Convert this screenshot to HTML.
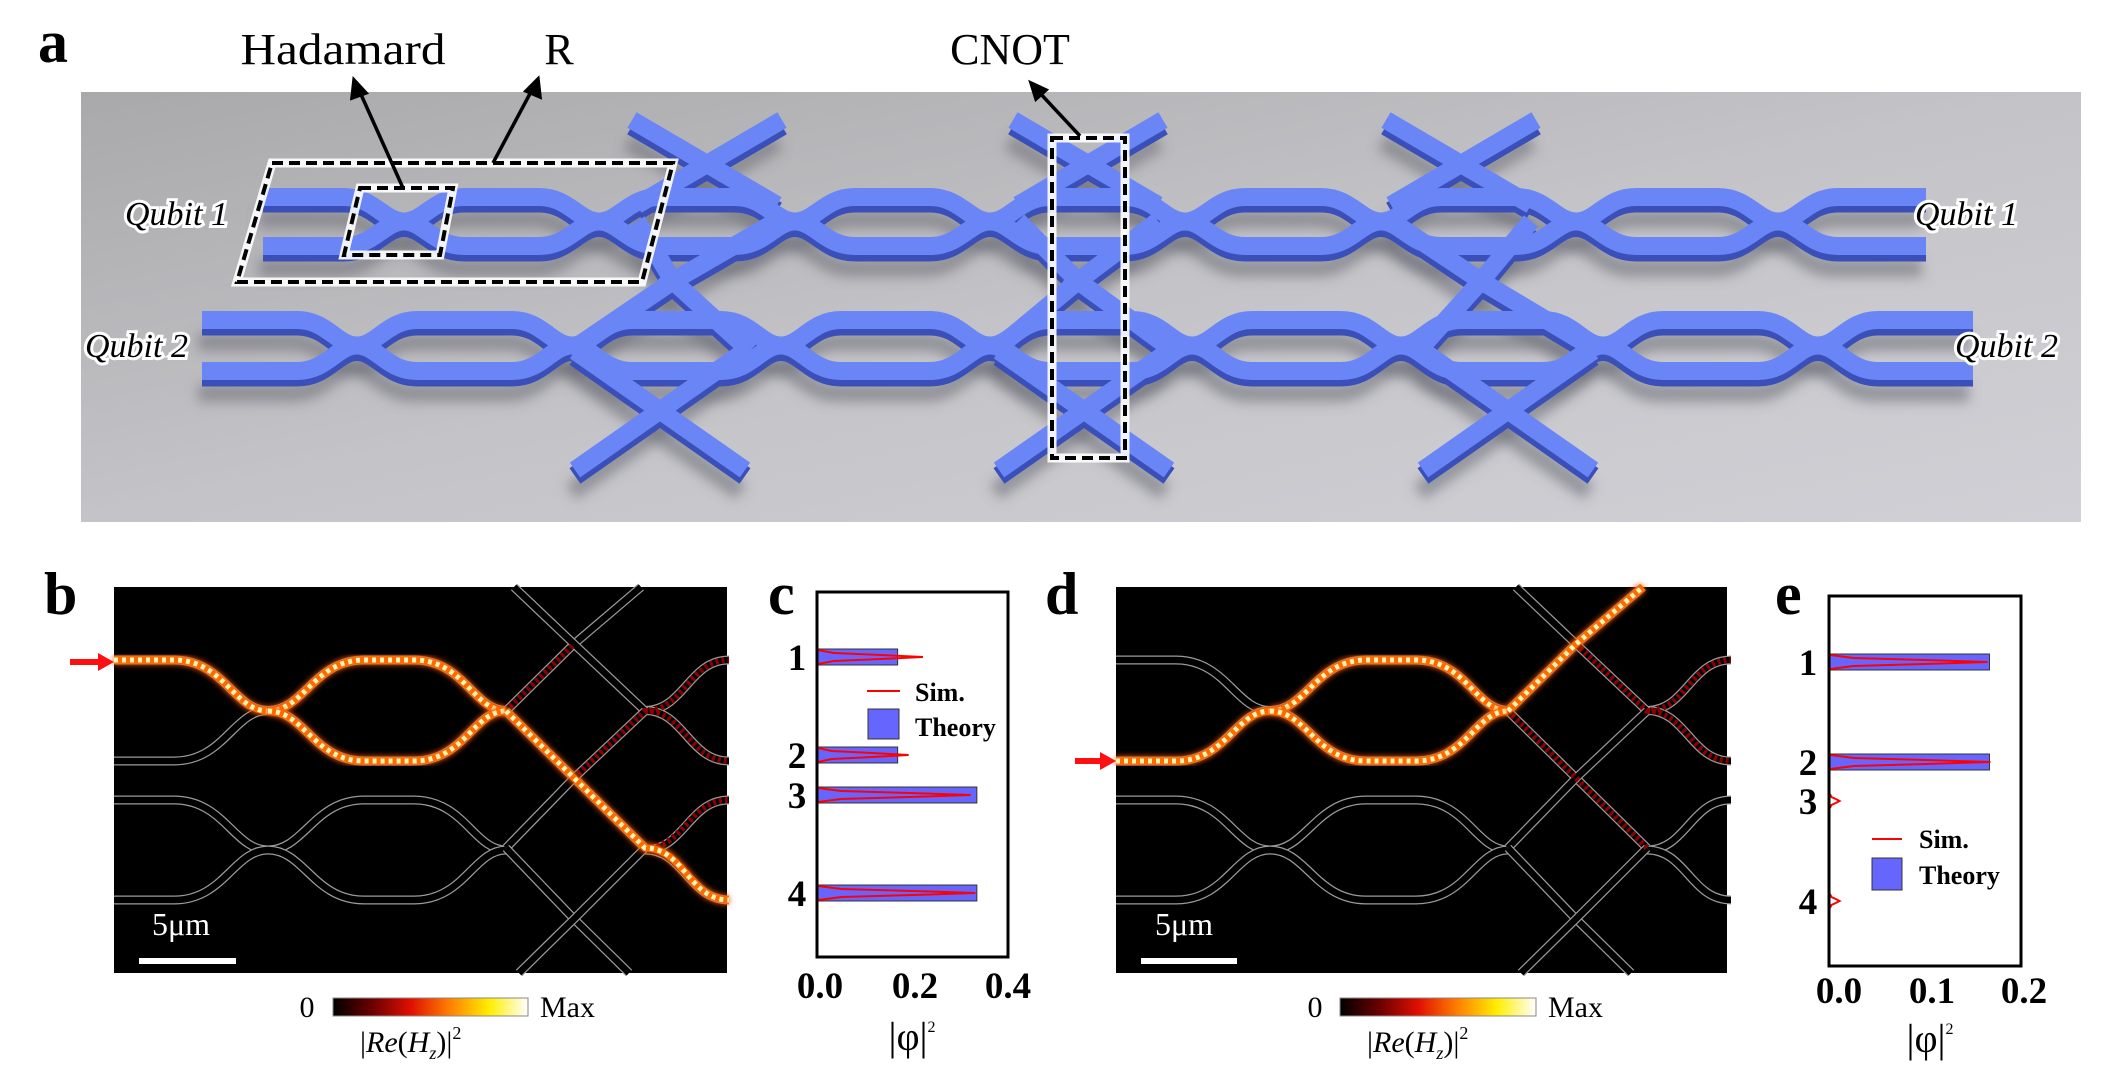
<!DOCTYPE html>
<html><head><meta charset="utf-8">
<style>
html,body{margin:0;padding:0;background:#fff;}
svg{display:block;}
.serif{font-family:"Liberation Serif",serif;}
</style></head>
<body>
<svg id="s" width="2101" height="1068" viewBox="0 0 2101 1068" xmlns="http://www.w3.org/2000/svg">
<defs>
<linearGradient id="bg" x1="0" y1="0" x2="1" y2="1">
<stop offset="0" stop-color="#a9a9ab"/><stop offset="0.5" stop-color="#c4c4c8"/><stop offset="1" stop-color="#d0d0d6"/>
</linearGradient>
<linearGradient id="cb" x1="0" y1="0" x2="1" y2="0">
<stop offset="0" stop-color="#000"/><stop offset="0.2" stop-color="#6a0000"/><stop offset="0.4" stop-color="#e01000"/><stop offset="0.6" stop-color="#ff8000"/><stop offset="0.8" stop-color="#ffee00"/><stop offset="1" stop-color="#fff"/>
</linearGradient>
<filter id="blur" x="-10%" y="-10%" width="120%" height="120%"><feGaussianBlur stdDeviation="6"/></filter>
<filter id="glow"><feGaussianBlur stdDeviation="3"/></filter>
</defs>

<!-- panel a -->
<text x="38" y="62" class="serif" font-size="60" font-weight="bold">a</text>
<rect x="81" y="92" width="2000" height="430" fill="url(#bg)"/>
<g id="net"></g>
<text x="343" y="64" class="serif" font-size="44" text-anchor="middle" textLength="205" lengthAdjust="spacingAndGlyphs">Hadamard</text>
<text x="559" y="64" class="serif" font-size="44" text-anchor="middle">R</text>
<text x="1010" y="64" class="serif" font-size="44" text-anchor="middle">CNOT</text>
<g stroke="#fff" stroke-width="9" fill="none" opacity="0.9">
<path d="M272 163 L673 163 L642 282 L237 282 Z"/><path d="M360 188 L453 188 L440 255 L344 255 Z"/><rect x="1052" y="138" width="73" height="320"/>
</g>
<g stroke="#000" stroke-width="4" fill="none" stroke-dasharray="11 6">
<path d="M272 163 L673 163 L642 282 L237 282 Z"/><path d="M360 188 L453 188 L440 255 L344 255 Z"/><rect x="1052" y="138" width="73" height="320"/>
</g>
<g stroke="#000" stroke-width="3.5" fill="#000">
<line x1="403" y1="188" x2="359" y2="90"/><polygon points="354,80 352,98 366,93"/>
<line x1="493" y1="163" x2="533" y2="88"/><polygon points="538,79 526,91 540,97"/>
<line x1="1080" y1="136" x2="1038" y2="91"/><polygon points="1031,83 1036,99 1046,90"/>
</g>
<g class="serif" font-size="34" font-style="italic" fill="#000" stroke="#fff" stroke-width="6" paint-order="stroke">
<text x="125" y="225">Qubit 1</text><text x="1915" y="225">Qubit 1</text>
<text x="85" y="357">Qubit 2</text><text x="1955" y="357">Qubit 2</text>
</g>

<!-- panel b -->
<text x="44" y="614" class="serif" font-size="60" font-weight="bold">b</text>
<rect x="114" y="587" width="613" height="386" fill="#000"/>
<g id="pb" transform="translate(114,587)"></g>
<polygon points="70,659 98,659 98,653 114,662 98,671 98,665 70,665" fill="#ff1010"/>
<text x="152" y="935" class="serif" font-size="32" fill="#fff">5μm</text>
<rect x="139" y="958" width="97" height="6" fill="#fff"/>
<text x="307" y="1017" class="serif" font-size="30" text-anchor="middle">0</text>
<rect x="333" y="998" width="195" height="18" fill="url(#cb)" stroke="#888" stroke-width="1"/>
<text x="540" y="1017" class="serif" font-size="30">Max</text>
<text x="360" y="1052" class="serif" font-size="30">|<tspan font-style="italic">Re</tspan>(<tspan font-style="italic">H</tspan><tspan font-size="18" font-style="italic" dy="7">z</tspan><tspan dy="-7">)|</tspan><tspan font-size="18" dy="-13">2</tspan></text>

<!-- panel c -->
<text x="768" y="614" class="serif" font-size="60" font-weight="bold">c</text>
<g id="pc"></g>
<rect x="817" y="592" width="191" height="365" fill="none" stroke="#000" stroke-width="3"/>
<g class="serif" font-size="37" font-weight="bold" text-anchor="middle">
<text x="820" y="998">0.0</text><text x="915" y="998">0.2</text><text x="1008" y="998">0.4</text>
<text x="797" y="670">1</text><text x="797" y="768">2</text><text x="797" y="808">3</text><text x="797" y="906">4</text>
</g>
<line x1="867" y1="691" x2="900" y2="691" stroke="#f00" stroke-width="2"/>
<rect x="868" y="709" width="31" height="30" fill="#6666ff" stroke="#333" stroke-width="1"/>
<text x="915" y="701" class="serif" font-size="26" font-weight="bold">Sim.</text>
<text x="915" y="736" class="serif" font-size="26" font-weight="bold">Theory</text>
<text x="912" y="1050" class="serif" font-size="40" text-anchor="middle">|φ|<tspan font-size="16" dy="-18">2</tspan></text>

<!-- panel d -->
<text x="1045" y="614" class="serif" font-size="60" font-weight="bold">d</text>
<rect x="1116" y="587" width="611" height="386" fill="#000"/>
<g id="pd" transform="translate(1116,587)"></g>
<polygon points="1075,758 1100,758 1100,752 1116,761 1100,770 1100,764 1075,764" fill="#ff1010"/>
<text x="1155" y="935" class="serif" font-size="32" fill="#fff">5μm</text>
<rect x="1141" y="958" width="96" height="6" fill="#fff"/>
<text x="1315" y="1017" class="serif" font-size="30" text-anchor="middle">0</text>
<rect x="1340" y="998" width="196" height="18" fill="url(#cb)" stroke="#888" stroke-width="1"/>
<text x="1548" y="1017" class="serif" font-size="30">Max</text>
<text x="1367" y="1052" class="serif" font-size="30">|<tspan font-style="italic">Re</tspan>(<tspan font-style="italic">H</tspan><tspan font-size="18" font-style="italic" dy="7">z</tspan><tspan dy="-7">)|</tspan><tspan font-size="18" dy="-13">2</tspan></text>

<!-- panel e -->
<text x="1775" y="614" class="serif" font-size="60" font-weight="bold">e</text>
<g id="pe"></g>
<rect x="1829" y="596" width="192" height="370" fill="none" stroke="#000" stroke-width="3"/>
<g class="serif" font-size="37" font-weight="bold" text-anchor="middle">
<text x="1839" y="1003">0.0</text><text x="1932" y="1003">0.1</text><text x="2024" y="1003">0.2</text>
<text x="1808" y="675">1</text><text x="1808" y="775">2</text><text x="1808" y="814">3</text><text x="1808" y="914">4</text>
</g>
<line x1="1872" y1="839" x2="1902" y2="839" stroke="#f00" stroke-width="2"/>
<rect x="1872" y="858" width="30" height="32" fill="#6666ff" stroke="#333" stroke-width="1"/>
<text x="1919" y="848" class="serif" font-size="26" font-weight="bold">Sim.</text>
<text x="1919" y="884" class="serif" font-size="26" font-weight="bold">Theory</text>
<text x="1930" y="1052" class="serif" font-size="40" text-anchor="middle">|φ|<tspan font-size="16" dy="-18">2</tspan></text>
</svg>
<script>
var NS="http://www.w3.org/2000/svg";
function el(p,tag,at){var e=document.createElementNS(NS,tag);for(var k in at)e.setAttribute(k,at[k]);p.appendChild(e);return e;}
function rowPaths(yu,yl){var ym=(yu+yl)/2,p=[];
 [yu,yl].forEach(function(a){
  p.push("M0,"+a+" L60,"+a+" C110,"+a+" 120,"+ym+" 154,"+ym+" C190,"+ym+" 200,"+a+" 250,"+a+" L300,"+a+" C350,"+a+" 360,"+ym+" 392,"+ym);
  p.push("M531,"+ym+" C570,"+ym+" 575,"+a+" 615,"+a);});
 return p;}
var base=rowPaths(73,174).concat(rowPaths(213,313)).concat([
"M392,124 L460,57 L527,0","M531,124 L460,57 L400,0","M392,124 L460,191 L531,261","M531,124 L460,191 L392,261",
"M392,261 L460,332 L515,386","M531,261 L460,332 L405,386"]);
function drawPanel(g,glows,dims){
 base.forEach(function(d){el(g,"path",{d:d,stroke:"#9a9a9a","stroke-width":9,fill:"none"});el(g,"path",{d:d,stroke:"#000","stroke-width":6.5,fill:"none"});});
 dims.forEach(function(d){el(g,"path",{d:d,stroke:"#8a0000","stroke-width":6,fill:"none","stroke-dasharray":"3 3"});});
 glows.forEach(function(d){el(g,"path",{d:d,stroke:"#ff5a00","stroke-width":9,fill:"none",filter:"url(#glow)"});
  el(g,"path",{d:d,stroke:"#ff6a00","stroke-width":7,fill:"none"});
  el(g,"path",{d:d,stroke:"#fff4b0","stroke-width":5,fill:"none","stroke-dasharray":"4 4"});});
}
drawPanel(document.getElementById("pb"),
 ["M0,73 L60,73 C110,73 120,124 154,124","M154,124 C190,124 200,73 250,73 L300,73 C350,73 360,124 392,124","M154,124 C190,124 200,174 250,174 L300,174 C350,174 360,124 392,124","M392,124 L460,191 L531,261 C570,261 575,313 615,313"],
 ["M531,261 C570,261 575,213 615,213","M460,191 L531,124 C570,124 575,73 615,73","M531,124 C570,124 575,174 615,174","M392,124 L460,57"]);
drawPanel(document.getElementById("pd"),
 ["M0,174 L60,174 C110,174 120,124 154,124","M154,124 C190,124 200,73 250,73 L300,73 C350,73 360,124 392,124","M154,124 C190,124 200,174 250,174 L300,174 C350,174 360,124 392,124","M392,124 L460,57 L527,0"],
 ["M392,124 L460,191 L531,261","M460,57 L531,124 C570,124 575,73 615,73","M531,124 C570,124 575,174 615,174"]);
var net=document.getElementById("net");
function rowA(y1,y2,xs,x0,x1){var ym=(y1+y2)/2,out=[];
 [[y1,y2],[y2,y1]].forEach(function(pr){var a=pr[0],b=pr[1],d="M"+x0+","+a+" L"+(xs[0]-60)+","+a;var cur=a;
  for(var i=0;i<xs.length;i++){var x=xs[i];d+=" C"+(x-30)+","+cur+" "+(x-20)+","+ym+" "+x+","+ym;var nx=(i+1<xs.length)?xs[i+1]:x1+60;var nxt=(cur==a)?b:a;
   d+=" C"+(x+20)+","+ym+" "+(x+30)+","+nxt+" "+(x+60)+","+nxt+" L"+Math.min(nx-60,x1)+","+nxt;cur=nxt;}
  out.push(d);});return out;}
var paths=rowA(197,246,[404,599,795,990,1185,1381,1576,1778],263,1926).concat(rowA(320,371,[357,572,781,990,1192,1401,1603,1818],202,1973));
[[707,161,673,281,660,411],[1088,161,1078,281,1084,411],[1461,161,1481,281,1508,411]].forEach(function(c){
 paths.push("M"+(c[0]-75)+",120 L"+(c[0]+70)+",205");paths.push("M"+(c[0]+75)+",120 L"+(c[0]-70)+",205");
 paths.push("M"+(c[0]-70)+",221 L"+c[2]+","+c[3]+" L"+(c[4]-90)+",351");paths.push("M"+(c[0]+70)+",221 L"+c[2]+","+c[3]+" L"+(c[4]+90)+",351");
 paths.push("M"+(c[4]-85)+",470 L"+(c[4]+85)+",351");paths.push("M"+(c[4]+85)+",470 L"+(c[4]-85)+",351");});
var sh=el(net,"g",{filter:"url(#blur)",transform:"translate(-4,22)"});
paths.forEach(function(d){el(sh,"path",{d:d,stroke:"#6e6e78","stroke-width":18,fill:"none",opacity:0.6});});
paths.forEach(function(d){el(net,"path",{d:d,stroke:"#3a50b8","stroke-width":19,fill:"none",transform:"translate(0,6)"});});
paths.forEach(function(d){el(net,"path",{d:d,stroke:"#6a86f6","stroke-width":18,fill:"none"});});
function bars(gid,x0,scale,rows){var g=document.getElementById(gid);
 rows.forEach(function(r){ if(r[1]>0)el(g,"rect",{x:x0,y:r[0]-8,width:r[1]*scale,height:16,fill:"#6666ff",stroke:"#333","stroke-width":1});
  var L=r[2]*scale,y=r[0];
  el(g,"path",{d:"M"+x0+","+(y-7)+" L"+(x0+L*0.15)+","+(y-4)+" L"+(x0+L*0.6)+","+(y-2)+" L"+(x0+L)+","+y+" L"+(x0+L*0.6)+","+(y+2)+" L"+(x0+L*0.15)+","+(y+4)+" L"+x0+","+(y+7),stroke:"#f00","stroke-width":2,fill:"none"});});}
bars("pc",818,477,[[657,0.167,0.22],[755,0.167,0.19],[795,0.333,0.32],[893,0.333,0.33]]);
bars("pe",1830,955,[[662,0.167,0.165],[762,0.167,0.168],[801,0,0.01],[901,0,0.01]]);
</script>
</body></html>
